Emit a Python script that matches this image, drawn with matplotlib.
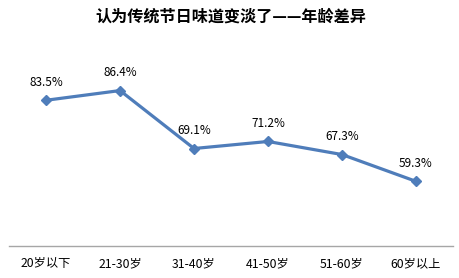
import matplotlib
matplotlib.use("Agg")
import matplotlib.pyplot as plt

plt.rcParams["font.family"] = ["Noto Sans CJK SC", "DejaVu Sans"]

CATEGORIES = ["20岁以下", "21-30岁", "31-40岁", "41-50岁", "51-60岁", "60岁以上"]
VALUES = [83.5, 86.4, 69.1, 71.2, 67.3, 59.3]
LABELS = ["83.5%", "86.4%", "69.1%", "71.2%", "67.3%", "59.3%"]
LINE_COLOR = "#4F7DBA"

fig = plt.figure(figsize=(4.6, 2.78), dpi=100)
ax = fig.add_axes([9 / 460, 32 / 278, 444 / 460, 201 / 278])

x = list(range(len(CATEGORIES)))
ax.plot(x, VALUES, color=LINE_COLOR, linewidth=2.3, marker="D",
        markersize=5, markerfacecolor=LINE_COLOR, markeredgecolor=LINE_COLOR)

for xi, v, lab in zip(x, VALUES, LABELS):
    ax.annotate(lab, (xi, v), xytext=(0, 13), textcoords="offset points",
                ha="center", va="center", fontsize=8.5, color="#000000")

ax.set_xlim(-0.5, len(CATEGORIES) - 0.5)
ax.set_ylim(40, 100)
ax.set_xticks(x)
ax.set_xticklabels(CATEGORIES, fontsize=8.8)
ax.set_yticks([])
ax.tick_params(axis="x", length=0, pad=8)

for side in ["top", "right", "left"]:
    ax.spines[side].set_visible(False)
ax.spines["bottom"].set_color("#A6A6A6")
ax.spines["bottom"].set_linewidth(1.0)

fig.text(231 / 460, 1 - 17 / 278, "认为传统节日味道变淡了——年龄差异",
         ha="center", va="center", fontsize=11.6, fontweight="bold")

fig.savefig("out.png", dpi=100)
